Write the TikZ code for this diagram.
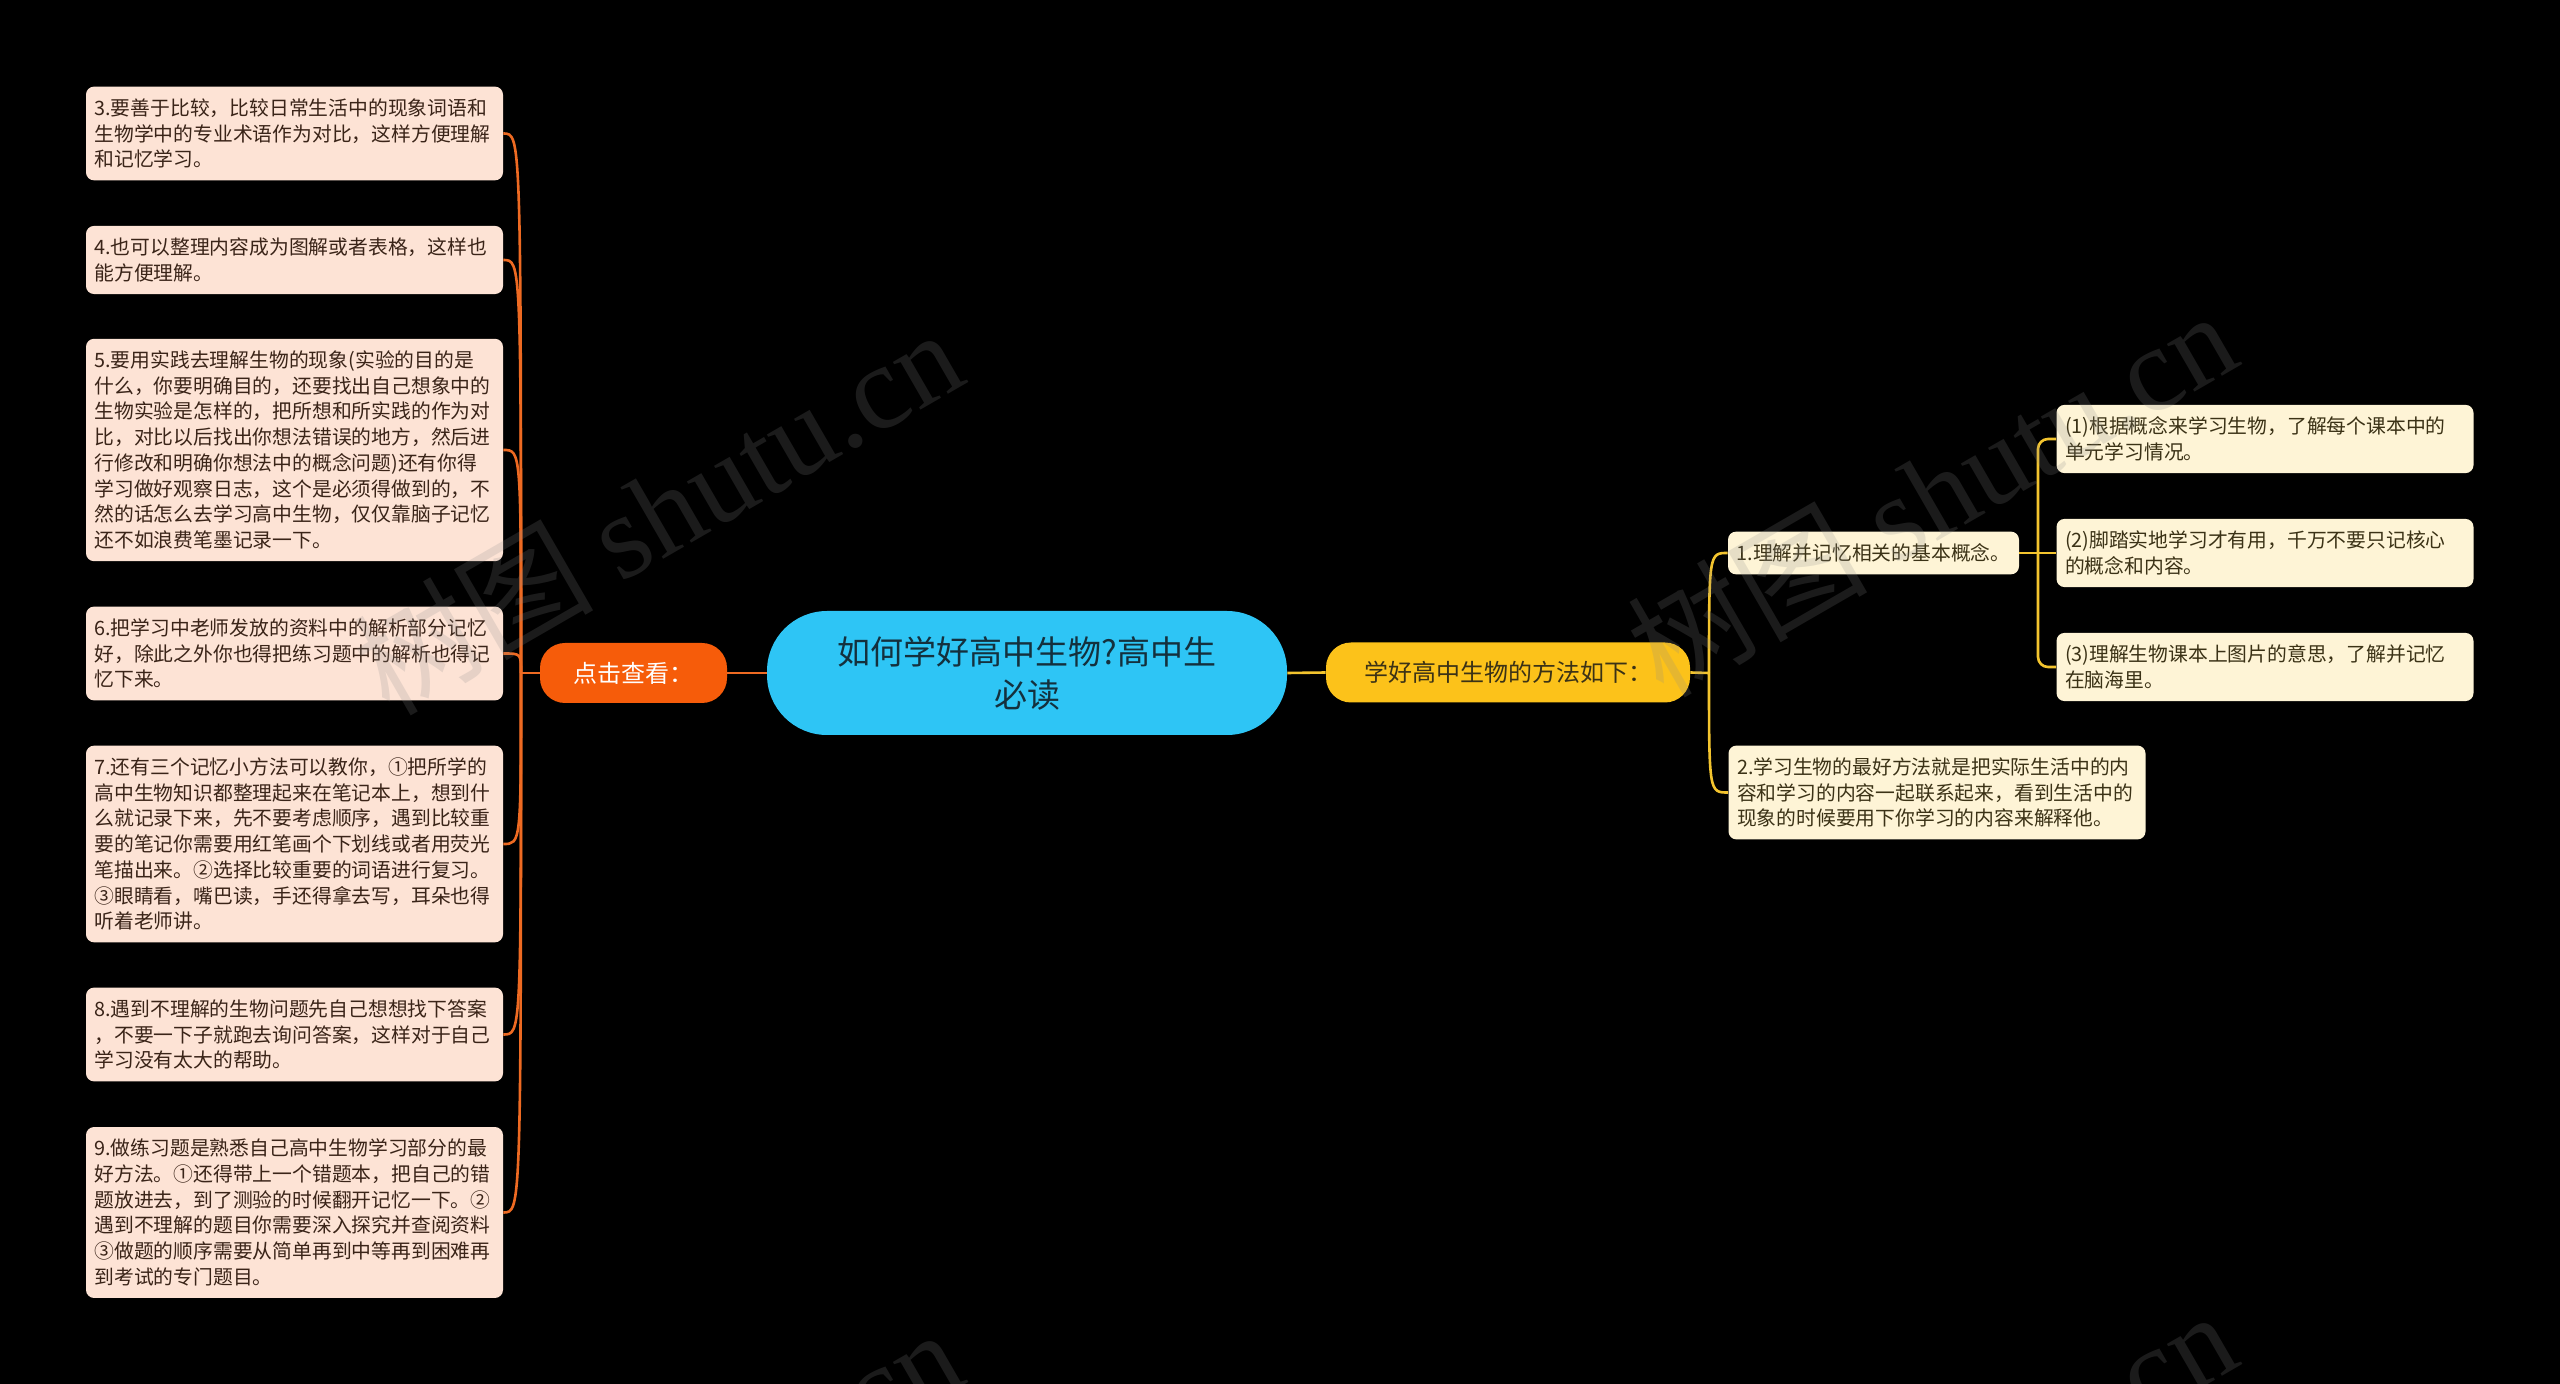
\documentclass[tikz,border=0pt]{standalone}
\usepackage{fontspec}
\setmainfont{Noto Sans CJK SC}
\newfontfamily\markfont{Liberation Serif}
\definecolor{MapBg}{HTML}{000000}
\definecolor{MapCyan}{HTML}{2EC5F5}
\definecolor{MapOrange}{HTML}{F65C0A}
\definecolor{MapPeach}{HTML}{FDE3D5}
\definecolor{MapGold}{HTML}{FCC21A}
\definecolor{MapCream}{HTML}{FEF4D6}
\definecolor{MapInk}{HTML}{14303D}
\definecolor{MapBrown}{HTML}{3A2418}
\definecolor{MapOlive}{HTML}{3B3216}
\definecolor{MapRust}{HTML}{EE6A22}
\definecolor{MapAmber}{HTML}{F3C42E}
\definecolor{MapMark}{HTML}{8A8A8A}

\begin{document}
\begin{tikzpicture}[
  x=0.5pt, y=-0.5pt,
  root/.style={fill=MapCyan, text=MapInk, rounded corners=30pt, minimum width=260pt, minimum height=62pt, align=center, font=\fontsize{16.5pt}{21.5pt}\selectfont},
  branch/.style={rounded corners=12.5pt, minimum height=30pt, inner sep=0pt, font=\fontsize{12pt}{14pt}\selectfont},
  leaf/.style={rounded corners=4pt, text width=200pt, inner xsep=4.25pt, inner ysep=6pt, align=left, font=\fontsize{9.9pt}{12.85pt}\selectfont},
  tipbox/.style={leaf, fill=MapPeach, text=MapBrown},
  notebox/.style={leaf, fill=MapCream, text=MapOlive},
  linkL/.style={draw=MapRust, line width=1.3pt},
  linkR/.style={draw=MapAmber, line width=1.3pt},
  wmark/.style={text=MapMark, opacity=0.2, rotate=30, font=\fontsize{60pt}{60pt}\selectfont}
]
\useasboundingbox (0,0) rectangle (2560,1384);
\clip (0,0) rectangle (2560,1384);
\fill[MapBg] (0,0) rectangle (2560,1384);

% centre and first level
\node[root] (root) at (1027,673) {如何学好高中生物?高中生\\必读};
\node[branch, fill=MapOrange, text=white, minimum width=93.5pt] (view) at (633.5,673) {点击查看：};
\node[branch, fill=MapGold, text=MapOlive, minimum width=182pt] (how) at (1508,672.5) {学好高中生物的方法如下：};

% left tips
\node[tipbox] (tip3) at (294.5,133.5) {3.要善于比较，比较日常生活中的现象词语和\\生物学中的专业术语作为对比，这样方便理解\\和记忆学习。};
\node[tipbox] (tip4) at (294.5,260) {4.也可以整理内容成为图解或者表格，这样也\\能方便理解。};
\node[tipbox] (tip5) at (294.5,450) {5.要用实践去理解生物的现象(实验的目的是\\什么，你要明确目的，还要找出自己想象中的\\生物实验是怎样的，把所想和所实践的作为对\\比，对比以后找出你想法错误的地方，然后进\\行修改和明确你想法中的概念问题)还有你得\\学习做好观察日志，这个是必须得做到的，不\\然的话怎么去学习高中生物，仅仅靠脑子记忆\\还不如浪费笔墨记录一下。};
\node[tipbox] (tip6) at (294.5,653.5) {6.把学习中老师发放的资料中的解析部分记忆\\好，除此之外你也得把练习题中的解析也得记\\忆下来。};
\node[tipbox] (tip7) at (294.5,844) {7.还有三个记忆小方法可以教你，①把所学的\\高中生物知识都整理起来在笔记本上，想到什\\么就记录下来，先不要考虑顺序，遇到比较重\\要的笔记你需要用红笔画个下划线或者用荧光\\笔描出来。②选择比较重要的词语进行复习。\\③眼睛看，嘴巴读，手还得拿去写，耳朵也得\\听着老师讲。};
\node[tipbox] (tip8) at (294.5,1034.5) {8.遇到不理解的生物问题先自己想想找下答案\\，不要一下子就跑去询问答案，这样对于自己\\学习没有太大的帮助。};
\node[tipbox] (tip9) at (294.5,1212.5) {9.做练习题是熟悉自己高中生物学习部分的最\\好方法。①还得带上一个错题本，把自己的错\\题放进去，到了测验的时候翻开记忆一下。②\\遇到不理解的题目你需要深入探究并查阅资料\\③做题的顺序需要从简单再到中等再到困难再\\到考试的专门题目。};

% right notes
\node[notebox, text width=137pt] (concept) at (1873.5,553) {1.理解并记忆相关的基本概念。};
\node[notebox] (life) at (1937,792.5) {2.学习生物的最好方法就是把实际生活中的内\\容和学习的内容一起联系起来，看到生活中的\\现象的时候要用下你学习的内容来解释他。};
\node[notebox] (sub1) at (2265,439) {(1)根据概念来学习生物，了解每个课本中的\\单元学习情况。};
\node[notebox] (sub2) at (2265,553) {(2)脚踏实地学习才有用，千万不要只记核心\\的概念和内容。};
\node[notebox] (sub3) at (2265,667) {(3)理解生物课本上图片的意思，了解并记忆\\在脑海里。};

% connectors
\coordinate (jl) at (521,673);
\coordinate (jr) at (1709,673);
\coordinate (js) at (2038,553);
\draw[linkL] (root.west) -- (view.east);
\draw[linkL] (view.west) -- (jl);
\draw[linkL] (jl) .. controls (jl |- tip3.east) .. (tip3.east);
\draw[linkL] (jl) .. controls (jl |- tip4.east) .. (tip4.east);
\draw[linkL] (jl) .. controls (jl |- tip5.east) .. (tip5.east);
\draw[linkL] (jl) .. controls (jl |- tip6.east) .. (tip6.east);
\draw[linkL] (jl) .. controls (jl |- tip7.east) .. (tip7.east);
\draw[linkL] (jl) .. controls (jl |- tip8.east) .. (tip8.east);
\draw[linkL] (jl) .. controls (jl |- tip9.east) .. (tip9.east);
\draw[linkR] (root.east) -- (how.west);
\draw[linkR] (how.east) -- (jr);
\draw[linkR] (jr) .. controls (jr |- concept.west) .. (concept.west);
\draw[linkR] (jr) .. controls (jr |- life.west) .. (life.west);
\draw[linkR] (concept.east) -- (js);
\draw[linkR, rounded corners=5pt] (js) |- (sub1.west);
\draw[linkR] (js) -- (sub2.west);
\draw[linkR, rounded corners=5pt] (js) |- (sub3.west);

% watermarks
\node[wmark] (wm1) at (657,510) {树图 {\markfont shutu.cn}};
\node[wmark] (wm2) at (1931,492) {树图 {\markfont shutu.cn}};
\node[wmark] (wm3) at (657,1510) {树图 {\markfont shutu.cn}};
\node[wmark] (wm4) at (1931,1492) {树图 {\markfont shutu.cn}};
\end{tikzpicture}
\end{document}
